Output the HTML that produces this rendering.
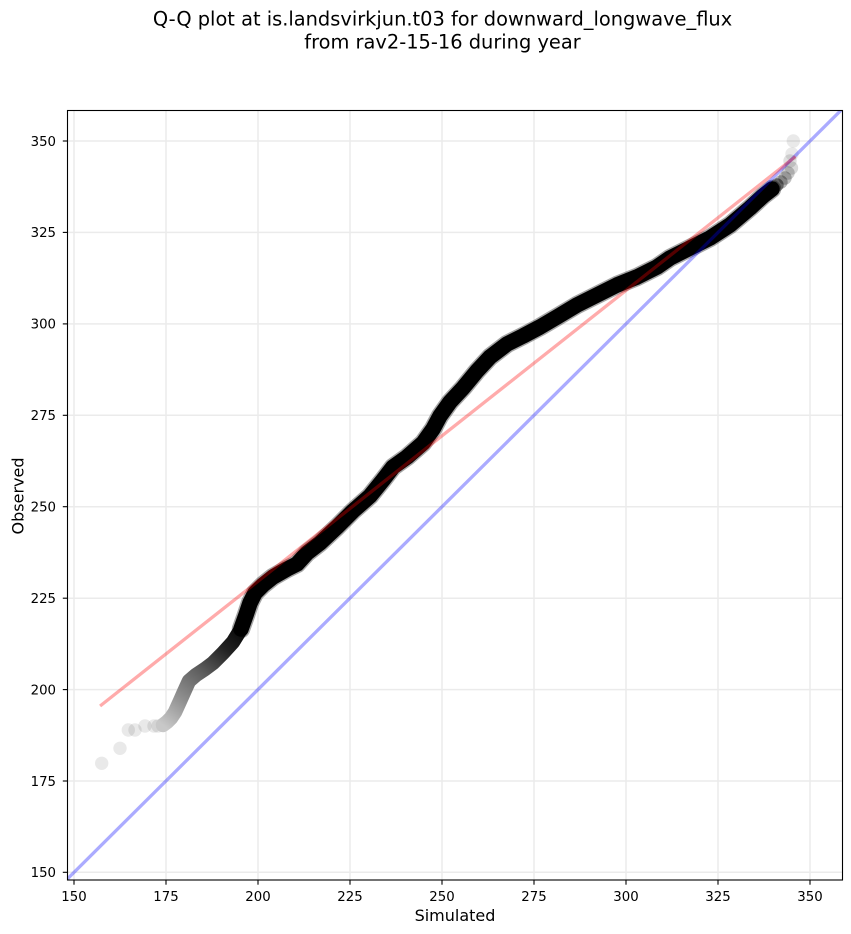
<!DOCTYPE html>
<html>
<head>
<meta charset="utf-8">
<style>
  html, body { margin: 0; padding: 0; background: #ffffff; }
  svg { display: block; }
  text { font-family: "DejaVu Sans", "Liberation Sans", sans-serif; fill: #000; }
</style>
</head>
<body>
<svg width="851" height="934" viewBox="0 0 851 934" xmlns="http://www.w3.org/2000/svg">
  <defs>
    <clipPath id="ax">
      <rect x="67.5" y="110.5" width="775" height="769.5"/>
    </clipPath>
    <linearGradient id="tailg" gradientUnits="userSpaceOnUse" x1="163" y1="725" x2="244" y2="622">
      <stop offset="0" stop-color="#c8c8c8"/>
      <stop offset="0.25" stop-color="#8e8e8e"/>
      <stop offset="0.5" stop-color="#5e5e5e"/>
      <stop offset="0.75" stop-color="#222222"/>
      <stop offset="1" stop-color="#000000"/>
    </linearGradient>
  </defs>

  <!-- Title -->
  <text x="442.5" y="25.5" font-size="19.4" text-anchor="middle">Q-Q plot at is.landsvirkjun.t03 for downward_longwave_flux</text>
  <text x="442.5" y="48.5" font-size="19.4" text-anchor="middle">from rav2-15-16 during year</text>

  <!-- Grid -->
  <g stroke="#ebebeb" stroke-width="1.5">
    <line x1="74" y1="110.5" x2="74" y2="880"/>
    <line x1="166" y1="110.5" x2="166" y2="880"/>
    <line x1="258" y1="110.5" x2="258" y2="880"/>
    <line x1="350" y1="110.5" x2="350" y2="880"/>
    <line x1="442" y1="110.5" x2="442" y2="880"/>
    <line x1="534" y1="110.5" x2="534" y2="880"/>
    <line x1="626" y1="110.5" x2="626" y2="880"/>
    <line x1="718" y1="110.5" x2="718" y2="880"/>
    <line x1="810" y1="110.5" x2="810" y2="880"/>
    <line x1="67.5" y1="872.3" x2="842.5" y2="872.3"/>
    <line x1="67.5" y1="781" x2="842.5" y2="781"/>
    <line x1="67.5" y1="689.6" x2="842.5" y2="689.6"/>
    <line x1="67.5" y1="598.2" x2="842.5" y2="598.2"/>
    <line x1="67.5" y1="506.7" x2="842.5" y2="506.7"/>
    <line x1="67.5" y1="415.3" x2="842.5" y2="415.3"/>
    <line x1="67.5" y1="323.9" x2="842.5" y2="323.9"/>
    <line x1="67.5" y1="232.4" x2="842.5" y2="232.4"/>
    <line x1="67.5" y1="141" x2="842.5" y2="141"/>
  </g>

  <g clip-path="url(#ax)">
    <!-- sparse tail points -->
    <g fill="#000" fill-opacity="0.085">
      <circle cx="101.7" cy="763.3" r="6.7"/>
      <circle cx="120" cy="748.3" r="6.7"/>
      <circle cx="128.3" cy="730" r="6.7"/>
      <circle cx="135" cy="730" r="6.7"/>
      <circle cx="145" cy="726" r="6.7"/>
      <circle cx="154" cy="726" r="6.7"/>
      <circle cx="158" cy="726" r="6.7"/>
    </g>

    <!-- soft halo under dense part -->
    <path d="M241,629 L246,615 L250,603 L255,593 L263,585 L273,577 L287,569 L297,564 L307,553 L320,543 L337,527 L353,511 L370,496 L383,480 L393,467 L407,457 L423,443 L433,429 L440,416 L450,402 L463,388 L477,371 L490,357 L507,344 L523,336 L540,327 L557,317 L577,305 L597,295 L617,285 L637,277 L657,267 L670,258 L690,248 L710,238 L730,225 L750,208 L763,196 L772,189"
          fill="none" stroke="#000" stroke-opacity="0.35" stroke-width="18.5" stroke-linecap="round" stroke-linejoin="round"/>

    <!-- transition (gray) part of the point cloud -->
    <path d="M163,725 L167,722 L171,718 L175,712 L180,701 L184,692 L189,681 L196,675 L205,669 L213,663 L223,653 L233,642 L241,629 L246,615"
          fill="none" stroke="url(#tailg)" stroke-width="14.5" stroke-linecap="round" stroke-linejoin="round"/>

    <!-- dense (black) part of the point cloud -->
    <path d="M241,629 L246,615 L250,603 L255,593 L263,585 L273,577 L287,569 L297,564 L307,553 L320,543 L337,527 L353,511 L370,496 L383,480 L393,467 L407,457 L423,443 L433,429 L440,416 L450,402 L463,388 L477,371 L490,357 L507,344 L523,336 L540,327 L557,317 L577,305 L597,295 L617,285 L637,277 L657,267 L670,258 L690,248 L710,238 L730,225 L750,208 L763,196 L772,189"
          fill="none" stroke="#000" stroke-width="15.5" stroke-linecap="round" stroke-linejoin="round"/>

    <!-- upper tail points -->
    <g fill="#000">
      <circle cx="777" cy="185" r="6.7" fill-opacity="0.45"/>
      <circle cx="781" cy="182" r="6.7" fill-opacity="0.3"/>
      <circle cx="785" cy="178" r="6.7" fill-opacity="0.25"/>
      <circle cx="788" cy="173" r="6.7" fill-opacity="0.2"/>
      <circle cx="791.5" cy="168" r="6.7" fill-opacity="0.15"/>
      <circle cx="790" cy="161" r="6.7" fill-opacity="0.12"/>
      <circle cx="792" cy="154" r="6.7" fill-opacity="0.085"/>
      <circle cx="793.3" cy="141" r="6.7" fill-opacity="0.085"/>
    </g>

    <!-- 1:1 line (blue) -->
    <line x1="67.5" y1="878.8" x2="845" y2="106.3" stroke="#0000ff" stroke-opacity="0.33" stroke-width="3.3"/>
    <!-- fit line (red) -->
    <line x1="100.1" y1="706" x2="795.5" y2="156.5" stroke="#ff0000" stroke-opacity="0.33" stroke-width="3.3"/>
  </g>

  <!-- Axes frame -->
  <rect x="67.5" y="110.5" width="775" height="769.5" fill="none" stroke="#000" stroke-width="1.1"/>

  <!-- X ticks -->
  <g stroke="#000" stroke-width="1.1">
    <line x1="74" y1="880" x2="74" y2="884.7"/>
    <line x1="166" y1="880" x2="166" y2="884.7"/>
    <line x1="258" y1="880" x2="258" y2="884.7"/>
    <line x1="350" y1="880" x2="350" y2="884.7"/>
    <line x1="442" y1="880" x2="442" y2="884.7"/>
    <line x1="534" y1="880" x2="534" y2="884.7"/>
    <line x1="626" y1="880" x2="626" y2="884.7"/>
    <line x1="718" y1="880" x2="718" y2="884.7"/>
    <line x1="810" y1="880" x2="810" y2="884.7"/>
  </g>
  <g font-size="13.3" text-anchor="middle">
    <text x="74" y="901">150</text>
    <text x="166" y="901">175</text>
    <text x="258" y="901">200</text>
    <text x="350" y="901">225</text>
    <text x="442" y="901">250</text>
    <text x="534" y="901">275</text>
    <text x="626" y="901">300</text>
    <text x="718" y="901">325</text>
    <text x="810" y="901">350</text>
  </g>

  <!-- Y ticks -->
  <g stroke="#000" stroke-width="1.1">
    <line x1="62.8" y1="872.3" x2="67.5" y2="872.3"/>
    <line x1="62.8" y1="781" x2="67.5" y2="781"/>
    <line x1="62.8" y1="689.6" x2="67.5" y2="689.6"/>
    <line x1="62.8" y1="598.2" x2="67.5" y2="598.2"/>
    <line x1="62.8" y1="506.7" x2="67.5" y2="506.7"/>
    <line x1="62.8" y1="415.3" x2="67.5" y2="415.3"/>
    <line x1="62.8" y1="323.9" x2="67.5" y2="323.9"/>
    <line x1="62.8" y1="232.4" x2="67.5" y2="232.4"/>
    <line x1="62.8" y1="141" x2="67.5" y2="141"/>
  </g>
  <g font-size="13.3" text-anchor="end">
    <text x="56" y="877.1">150</text>
    <text x="56" y="785.8">175</text>
    <text x="56" y="694.4">200</text>
    <text x="56" y="603">225</text>
    <text x="56" y="511.5">250</text>
    <text x="56" y="420.1">275</text>
    <text x="56" y="328.7">300</text>
    <text x="56" y="237.2">325</text>
    <text x="56" y="145.8">350</text>
  </g>

  <!-- Axis labels -->
  <text x="455" y="921" font-size="16" text-anchor="middle">Simulated</text>
  <text transform="translate(23.5,496) rotate(-90)" font-size="16" text-anchor="middle">Observed</text>
</svg>
</body>
</html>
